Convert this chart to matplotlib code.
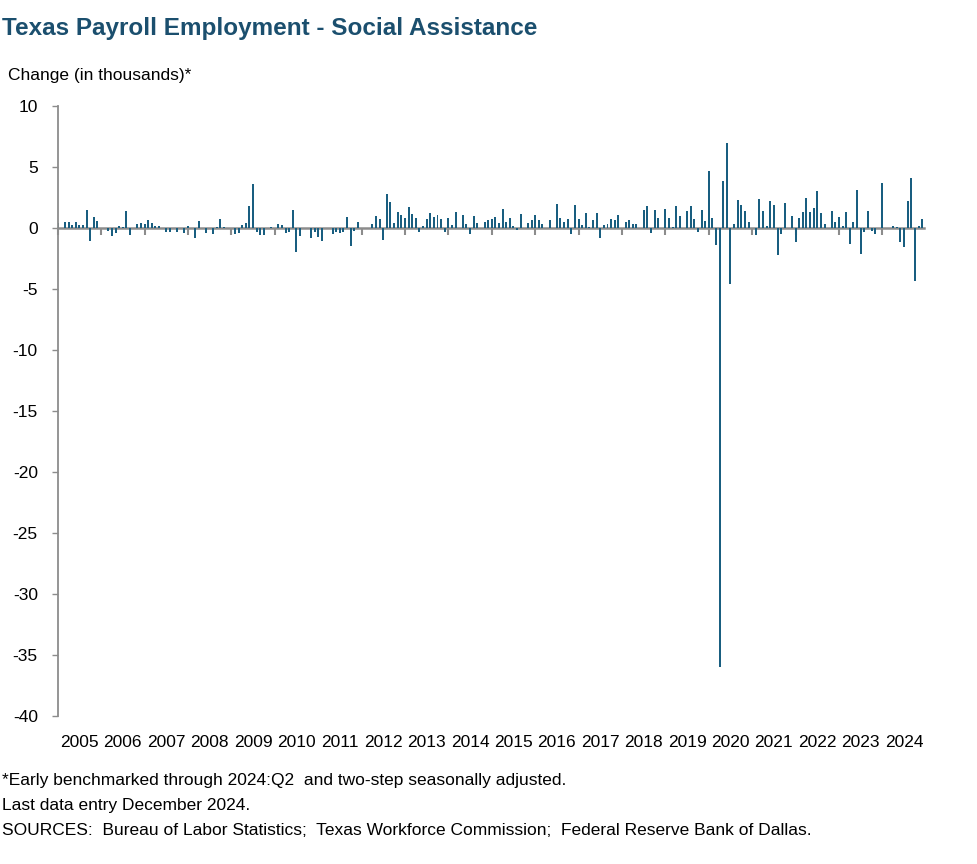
import numpy as np
import matplotlib
matplotlib.use("Agg")
import matplotlib.pyplot as plt

plt.rcParams['font.family'] = ['Liberation Sans', 'DejaVu Sans']
plt.rcParams['axes.unicode_minus'] = False

# monthly change, thousands, Jan 2005 .. Dec 2024
years = list(range(2005, 2025))
chg_2005 = [0.4, 0.0, 0.52, 0.52, 0.25, 0.52, 0.27, 0.25, 1.5, -1.07, 0.9, 0.6]
chg_2006 = [0.0, 0.0, -0.25, -0.65, -0.4, 0.2, 0.05, 1.37, -0.57, 0.0, 0.35, 0.44]
chg_2007 = [0.35, 0.68, 0.44, 0.2, 0.2, 0.0, -0.33, -0.33, 0.0, -0.33, 0.0, -0.4]
chg_2008 = [0.16, 0.0, -0.82, 0.6, 0.0, -0.4, 0.0, -0.46, 0.05, 0.77, 0.05, 0.0]
chg_2009 = [0.0, -0.46, -0.4, 0.27, 0.44, 1.83, 3.63, -0.33, -0.55, -0.55, 0.0, 0.1]
chg_2010 = [0.0, 0.35, 0.27, -0.4, -0.33, 1.5, -2.0, -0.65, 0.0, 0.0, -0.8, -0.33]
chg_2011 = [-0.7, -1.07, 0.0, 0.0, -0.46, -0.33, -0.4, -0.33, 0.93, -1.48, -0.25, 0.52]
chg_2012 = [0.0, 0.0, 0.0, 0.35, 1.0, 0.74, -1.0, 2.81, 2.13, 0.44, 1.31, 1.07]
chg_2013 = [0.82, 1.72, 1.17, 0.82, -0.33, 0.16, 0.74, 1.23, 0.9, 1.07, 0.74, -0.3]
chg_2014 = [0.8, 0.27, 1.31, 0.0, 1.07, 0.3, -0.46, 0.98, 0.41, 0.0, 0.52, 0.66]
chg_2015 = [0.74, 0.9, 0.41, 1.56, 0.5, 0.82, 0.14, -0.2, 1.15, 0.0, 0.41, 0.66]
chg_2016 = [1.07, 0.66, 0.33, 0.0, 0.66, 0.0, 2.0, 0.82, 0.49, 0.71, -0.46, 1.89]
chg_2017 = [0.74, 0.25, 1.23, 0.1, 0.63, 1.23, -0.82, 0.25, 0.36, 0.74, 0.66, 1.09]
chg_2018 = [0.0, 0.49, 0.66, 0.36, 0.36, 0.0, 1.5, 1.83, -0.41, 1.5, 0.82, 0.0]
chg_2019 = [1.58, 0.82, 0.05, 1.8, 0.98, 0.0, 1.39, 1.8, 0.74, -0.3, 1.5, 0.57]
chg_2020 = [4.67, 0.82, -1.39, -36.0, 3.85, 6.97, -4.56, 0.33, 2.3, 1.89, 1.39, 0.49]
chg_2021 = [0.0, -0.57, 2.38, 1.39, 0.16, 2.21, 1.89, -2.21, -0.49, 2.05, 0.0, 0.98]
chg_2022 = [-1.15, 0.82, 1.31, 2.46, 1.31, 1.64, 3.03, 1.23, 0.33, 0.0, 1.39, 0.49]
chg_2023 = [0.9, 0.16, 1.31, -1.31, 0.49, 3.11, -2.13, -0.33, 1.39, -0.25, -0.49, 0.0]
chg_2024 = [3.69, 0.0, 0.0, 0.16, 0.05, -1.15, -1.56, 2.24, 4.1, -4.34, 0.16, 0.74]

change = np.concatenate([chg_2005, chg_2006, chg_2007, chg_2008, chg_2009,
                         chg_2010, chg_2011, chg_2012, chg_2013, chg_2014,
                         chg_2015, chg_2016, chg_2017, chg_2018, chg_2019,
                         chg_2020, chg_2021, chg_2022, chg_2023, chg_2024])
months = np.arange(len(change))

blue = '#195e80'
grey = '#8c8c8c'
navy = '#1b4f6e'

fig = plt.figure(figsize=(9.77, 8.64), dpi=100)
ax = fig.add_axes([57.7 / 977, 1 - 716 / 864, (924 - 57.7) / 977, (716 - 106) / 864])

ax.bar(months, change, width=0.55, color=blue, zorder=2)

ax.set_xlim(0, 239.5)
ax.set_ylim(-40, 10)
ax.set_yticks(np.arange(-40, 11, 5))
ax.tick_params(axis='y', direction='out', length=4.3, width=1, color=grey,
               pad=10, labelsize=12.5)

# year labels at the bottom, centred in each year
ax.set_xticks([])
ax.set_xticks([12 * k + 6 for k in range(len(years))], minor=True)
ax.set_xticklabels([str(y) for y in years], minor=True)
ax.tick_params(axis='x', which='minor', length=0, pad=14, labelsize=12.5)

for s in ['top', 'right', 'bottom']:
    ax.spines[s].set_visible(False)
ax.spines['left'].set_color(grey)
ax.spines['left'].set_linewidth(1.3)

# zero line with year-boundary ticks
zero = ax.secondary_xaxis(0, transform=ax.transData)
zero.set_xticks([12 * k for k in range(len(years))])
zero.set_xticklabels([])
zero.tick_params(direction='out', length=5, width=1.5, color=grey)
zero.spines['bottom'].set_color(grey)
zero.spines['bottom'].set_linewidth(1.8)

fig.text(2 / 977, 1 - 35 / 864, 'Texas Payroll Employment - Social Assistance',
         fontsize=17.5, fontweight='bold', color=navy, va='baseline')
fig.text(8 / 977, 1 - 80 / 864, 'Change (in thousands)*', fontsize=12.5,
         va='baseline')

notes = ['*Early benchmarked through 2024:Q2  and two-step seasonally adjusted.',
         'Last data entry December 2024.',
         'SOURCES:  Bureau of Labor Statistics;  Texas Workforce Commission;  Federal Reserve Bank of Dallas.']
for k, line in enumerate(notes):
    fig.text(2 / 977, 1 - (785 + 25 * k) / 864, line, fontsize=12.5, va='baseline')

fig.savefig('out.png', dpi=100)
